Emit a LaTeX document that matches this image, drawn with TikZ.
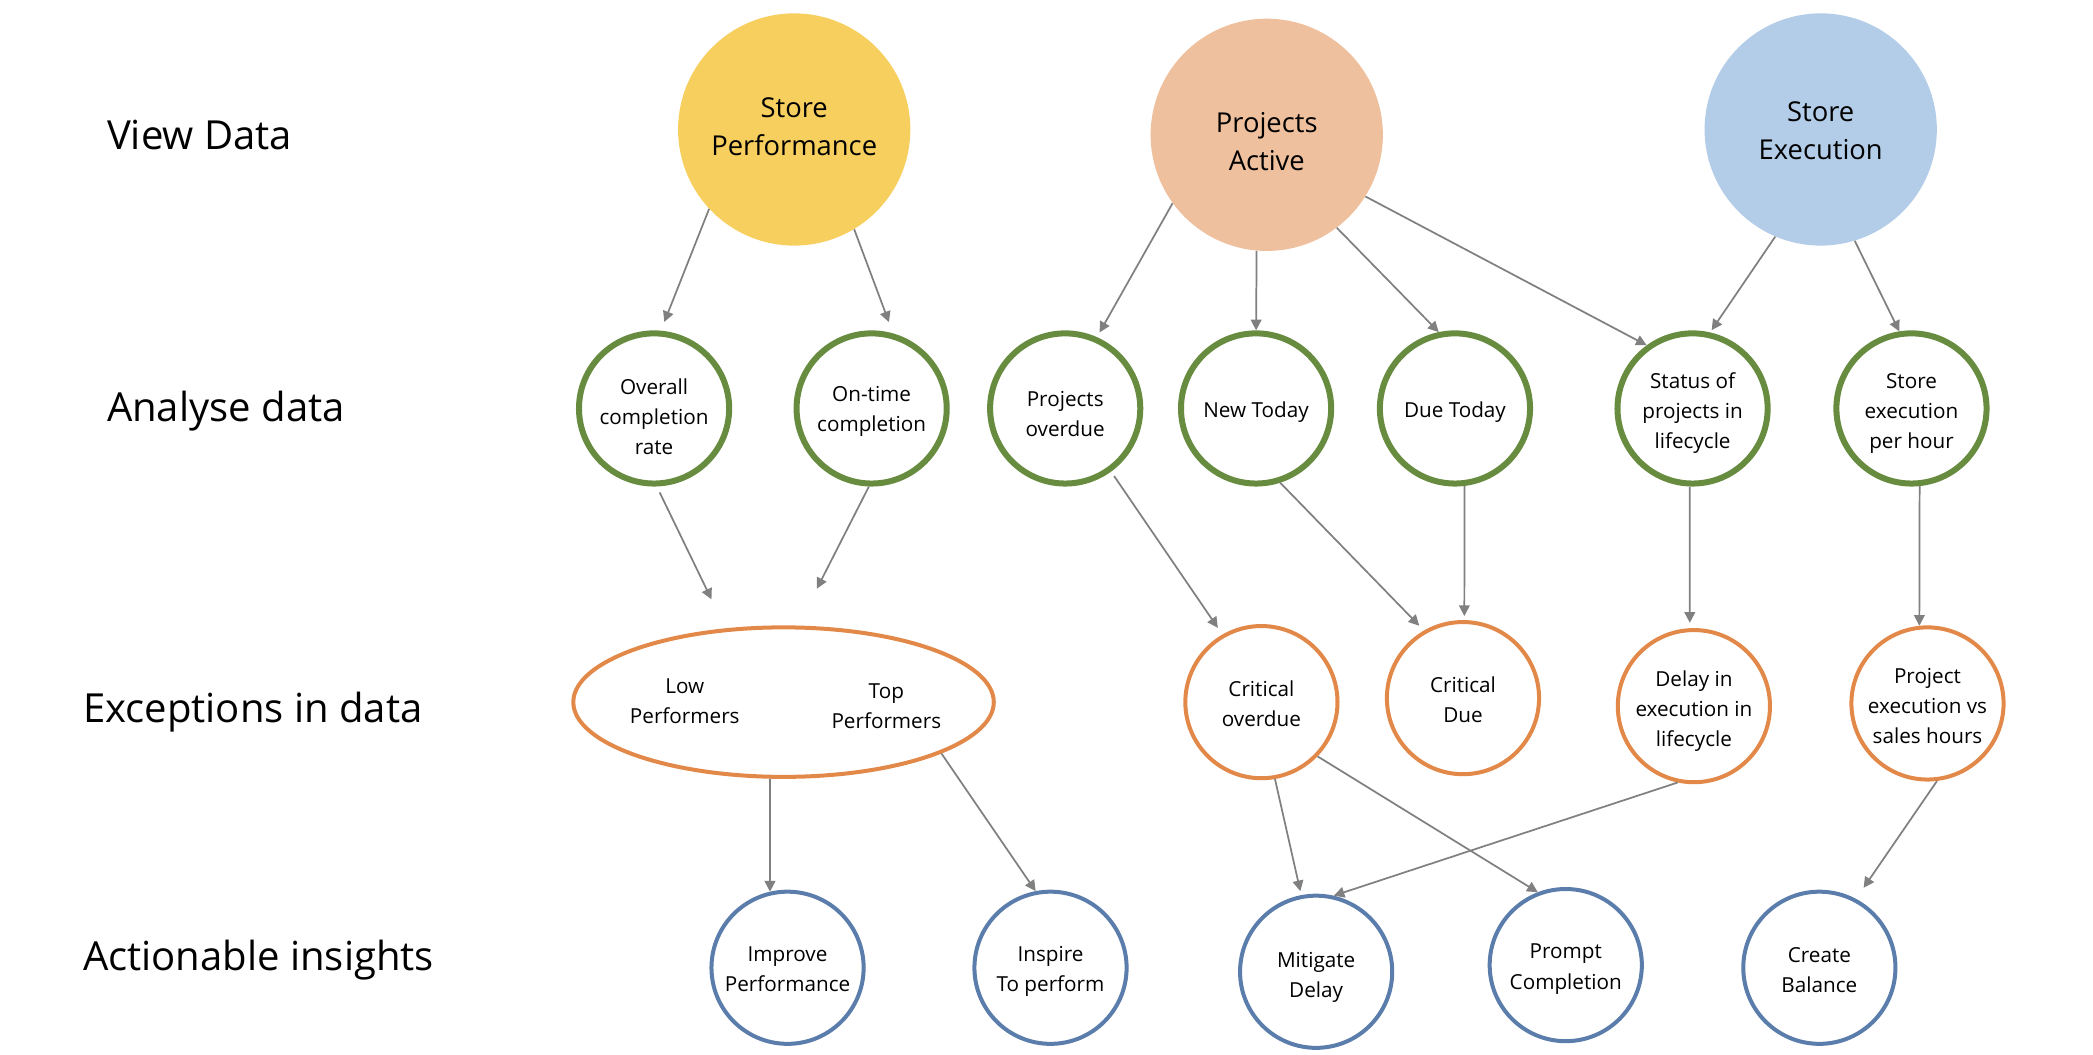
\documentclass[tikz,border=0pt]{standalone}
\usepackage{fontspec}
\setmainfont{Open Sans}
\usetikzlibrary{arrows.meta,shapes.geometric}
\definecolor{cyel}{HTML}{F7CF5F}
\definecolor{cpeach}{HTML}{EEC09D}
\definecolor{clblue}{HTML}{B3CDE8}
\definecolor{cgreen}{HTML}{678C40}
\definecolor{corange}{HTML}{E2894A}
\definecolor{cblue}{HTML}{5A7DAB}
\definecolor{carrow}{HTML}{808080}
\begin{document}
\begin{tikzpicture}[x=1pt,y=1pt,
 topc/.style={circle,minimum size=174pt,inner sep=0pt},
 anac/.style={circle,draw=cgreen,line width=4.5pt,minimum size=112.5pt,inner sep=0pt},
 excc/.style={circle,draw=corange,line width=3pt,minimum size=114pt,inner sep=0pt},
 actc/.style={circle,draw=cblue,line width=3pt,minimum size=114pt,inner sep=0pt},
 txt/.style={inner sep=0pt,align=center,font=\fontsize{15.5}{22.5}\selectfont},
 bigtxt/.style={inner sep=0pt,align=center,font=\fontsize{20.5}{29}\selectfont},
 rowlbl/.style={anchor=base west,inner sep=0pt,font=\fontsize{30}{36}\selectfont},
 arr/.style={draw=carrow,line width=1.3pt,-{Triangle[length=8pt,width=8pt]}}
]
\useasboundingbox (0,0) rectangle (1568,-790);

% row labels
\node[rowlbl] (r1) at (80,-112) {View Data};
\node[rowlbl] (r2) at (80,-316) {Analyse data};
\node[rowlbl] (r3) at (62,-541) {Exceptions in data};
\node[rowlbl] (r4) at (62,-727) {Actionable insights};

% top
\node[topc,fill=cyel] (sp) at (595,-97) {};
\node[topc,fill=cpeach] (pa) at (949,-101) {};
\node[topc,fill=clblue] (se) at (1364,-97) {};
\node[bigtxt] (spt) at ([yshift=2pt]sp.center) {Store\\Performance};
\node[bigtxt] (pat) at ([yshift=-5pt]pa.center) {Projects\\Active};
\node[bigtxt] (set) at ([yshift=-1pt]se.center) {Store\\Execution};

% analyse
\node[anac] (ov) at (490,-306) {};
\node[anac] (ot) at (653,-306) {};
\node[anac] (po) at (798,-306) {};
\node[anac] (nt) at (941,-306) {};
\node[anac] (dt) at (1090,-306) {};
\node[anac] (st) at (1268,-306) {};
\node[anac] (sh) at (1432,-306) {};
\node[txt] (ovt) at ([yshift=-6.5pt]ov.center) {Overall\\completion\\rate};
\node[txt] (ott) at ([yshift=-2.5pt]ot.center) {On-time\\completion};
\node[txt] (pot) at ([yshift=-4pt]po.center) {Projects\\overdue};
\node[txt] (ntt) at ([yshift=-3pt]nt.center) {New Today};
\node[txt] (dtt) at ([yshift=-3pt]dt.center) {Due Today};
\node[txt] (stt) at ([yshift=-3.5pt]st.center) {Status of\\projects in\\lifecycle};
\node[txt] (sht) at ([yshift=-3.5pt]sh.center) {Store\\execution\\per hour};

% exceptions
\node[ellipse,draw=corange,line width=3pt,minimum width=315pt,minimum height=112pt,inner sep=0pt] (ell) at (587,-526) {};
\node[txt] (lp) at (513,-525) {Low\\Performers};
\node[txt] (tp) at (664,-529) {Top\\Performers};
\node[excc] (co) at (945,-526) {};
\node[excc] (cd) at (1096,-523) {};
\node[excc] (dl) at (1269,-529) {};
\node[excc] (pe) at (1444,-527) {};
\node[txt] (cot) at ([yshift=-1pt]co.center) {Critical\\overdue};
\node[txt] (cdt) at ([yshift=-1pt]cd.center) {Critical\\Due};
\node[txt] (dlt) at ([yshift=-3.5pt]dl.center) {Delay in\\execution in\\lifecycle};
\node[txt] (pet) at ([yshift=-2pt]pe.center) {Project\\execution vs\\sales hours};

% actions
\node[actc] (ip) at (590,-725) {};
\node[actc] (it) at (787,-725) {};
\node[actc] (md) at (986,-728) {};
\node[actc] (pc) at (1173,-723) {};
\node[actc] (cb) at (1363,-725) {};
\node[txt] (ipt) at ([yshift=-1pt]ip.center) {Improve\\Performance};
\node[txt] (itt) at ([yshift=-3pt]it.center) {Inspire\\To perform};
\node[txt] (mdt) at ([yshift=-4pt]md.center) {Mitigate\\Delay};
\node[txt] (pct) at ([yshift=-3pt]pc.center) {Prompt\\Completion};
\node[txt] (cbt) at ([yshift=-2pt]cb.center) {Create\\Balance};

\coordinate (e1) at (533,-449);
\coordinate (e2) at (612,-441);

% arrows
\draw[arr,shorten >=7pt] (sp.223) -- (ov.85);
\draw[arr,shorten >=9pt] (sp.301) -- (ot.74);
\draw[arr,shorten >=4pt] (pa.216) -- (po.66);
\draw[arr] (pa.265) -- (nt.90);
\draw[arr] (pa.307) -- (dt.102);
\draw[arr] (pa.328) -- (st.126);
\draw[arr,shorten >=2pt] (se.247) -- (st.77);
\draw[arr] (se.287) -- (sh.99);
\draw[arr,shorten <=5pt] (ov.272) -- (e1);
\draw[arr] (ot.268) -- (e2);
\draw[arr,shorten <=4pt,shorten >=6pt] (po.306) -- (co.120);
\draw[arr,shorten >=5pt] (nt.288) -- (cd.120);
\draw[arr,shorten >=3pt] (dt.277) -- (cd.89);
\draw[arr,shorten >=4pt] (st.268) -- (dl.93);
\draw[arr] (sh.276) -- (pe.96);
\draw[arr] (ell.260) -- (ip.103);
\draw[arr] (ell.342) -- (it.101);
\draw[arr,shorten >=3pt] (co.280) -- (md.101);
\draw[arr] (co.316) -- (pc.111);
\draw[arr] (dl.258) -- (md.77);
\draw[arr,shorten >=10pt] (pe.277) -- (cb.62);
\end{tikzpicture}
\end{document}
